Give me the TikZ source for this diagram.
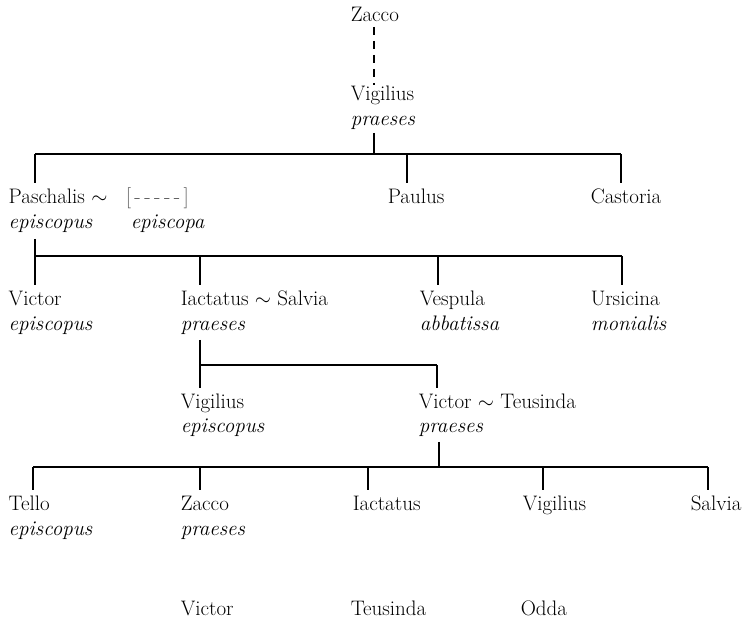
\documentclass[tikz,border=0pt]{standalone}
\usepackage{amsmath}
\usepackage{amssymb}
\usepackage{tikz}

\begin{document}
\begin{tikzpicture}[x=1pt,y=-1pt,line width=1.5pt,
    every node/.style={anchor=base west,inner sep=0,font=\fontsize{21}{25}\selectfont},
    role/.style={font=\fontsize{21}{25}\selectfont\itshape},
    drop/.style={shorten >=5pt},
    stem/.style={shorten <=3pt}]
        \useasboundingbox (0,0) rectangle (747,618);
        % people
        \node (zacco) at (350,22) {Zacco};
        \node (vigilius) at (350,100) {Vigilius};
        \node[role] (vigilius-r) at (350,125) {praeses};
        \node (paschalis) at (8,203) {Paschalis $\sim$};
        \node[text=black!65] (spouse) at (125,203) {[\,-\,-\,-\,-\,-\,]};
        \node[role] (paschalis-r) at (8,228) {episcopus};
        \node[role] (spouse-r) at (130,228) {episcopa};
        \node (paulus) at (387,203) {Paulus};
        \node (castoria) at (590,203) {Castoria};
        \node (victor) at (8,305) {Victor};
        \node[role] (victor-r) at (8,330) {episcopus};
        \node (iactatus) at (180,305) {Iactatus $\sim$ Salvia};
        \node[role] (iactatus-r) at (180,330) {praeses};
        \node (vespula) at (419,305) {Vespula};
        \node[role] (vespula-r) at (419,330) {abbatissa};
        \node (ursicina) at (590,305) {Ursicina};
        \node[role] (ursicina-r) at (590,330) {monialis};
        \node (vigilius2) at (180,408) {Vigilius};
        \node[role] (vigilius2-r) at (180,432) {episcopus};
        \node (victor2) at (418,408) {Victor $\sim$ Teusinda};
        \node[role] (victor2-r) at (418,432) {praeses};
        \node (tello) at (8,510) {Tello};
        \node[role] (tello-r) at (8,535) {episcopus};
        \node (zacco2) at (180,510) {Zacco};
        \node[role] (zacco2-r) at (180,535) {praeses};
        \node (iactatus2) at (352,510) {Iactatus};
        \node (vigilius3) at (522,510) {Vigilius};
        \node (salvia) at (690,510) {Salvia};
        \node (victor3) at (180,615) {Victor};
        \node (teusinda) at (350,615) {Teusinda};
        \node (odda) at (520,615) {Odda};
        % bars
        \coordinate (a0) at (374,154); \coordinate (a1) at (35,154);
        \coordinate (a2) at (407,154); \coordinate (a3) at (621,154);
        \coordinate (b0) at (35,256); \coordinate (b1) at (35,256);
        \coordinate (b2) at (200,256); \coordinate (b3) at (438,256);
        \coordinate (b4) at (622,256);
        \coordinate (c0) at (200,365); \coordinate (c1) at (200,365);
        \coordinate (c2) at (437,365);
        \coordinate (d0) at (439,467); \coordinate (d1) at (33,467);
        \coordinate (d2) at (200,467); \coordinate (d3) at (368,467);
        \coordinate (d4) at (543,467); \coordinate (d5) at (708,467);
        % lines
        \draw[dash pattern=on 8pt off 6pt] (a0 |- zacco.south) ++(0,4) -- (a0 |- vigilius.north);
        \draw (a1) -- (a3);
        \draw[stem] (a0 |- vigilius-r.south) -- (a0);
        \draw[drop] (a1) -- (a1 |- paschalis.north);
        \draw[drop] (a2) -- (a2 |- paulus.north);
        \draw[drop] (a3) -- (a3 |- castoria.north);
        \draw (b1) -- (b4);
        \draw[stem,shorten <=6pt] (b0 |- paschalis-r.south) -- (b0);
        \draw[drop] (b1) -- (b1 |- victor.north);
        \draw[drop] (b2) -- (b2 |- iactatus.north);
        \draw[drop] (b3) -- (b3 |- vespula.north);
        \draw[drop] (b4) -- (b4 |- ursicina.north);
        \draw (c1) -- (c2);
        \draw[stem,shorten <=5pt] (c0 |- iactatus-r.south) -- (c0);
        \draw[drop] (c1) -- (c1 |- vigilius2.north);
        \draw[drop] (c2) -- (c2 |- victor2.north);
        \draw (d1) -- (d5);
        \draw[stem,shorten <=5pt] (d0 |- victor2-r.south) -- (d0);
        \draw[drop] (d1) -- (d1 |- tello.north);
        \draw[drop] (d2) -- (d2 |- zacco2.north);
        \draw[drop] (d3) -- (d3 |- iactatus2.north);
        \draw[drop] (d4) -- (d4 |- vigilius3.north);
        \draw[drop] (d5) -- (d5 |- salvia.north);
      \end{tikzpicture}
\end{document}
